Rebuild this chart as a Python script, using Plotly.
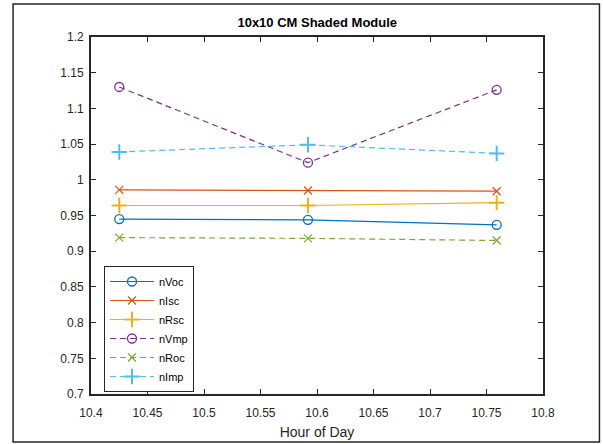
import plotly.graph_objects as go

hours = [10.425, 10.592, 10.759]
series_names = ["nVoc", "nIsc", "nRsc", "nVmp", "nRoc", "nImp"]
nVoc = [0.945, 0.944, 0.937]
nIsc = [0.986, 0.985, 0.984]
nRsc = [0.964, 0.964, 0.968]
nVmp = [1.130, 1.024, 1.126]
nRoc = [0.919, 0.918, 0.915]
nImp = [1.039, 1.049, 1.037]
x_ticks = [10.4, 10.45, 10.5, 10.55, 10.6, 10.65, 10.7, 10.75, 10.8]
y_ticks = [0.7, 0.75, 0.8, 0.85, 0.9, 0.95, 1.0, 1.05, 1.1, 1.15, 1.2]
y_ticklabels = ["0.7", "0.75", "0.8", "0.85", "0.9", "0.95", "1", "1.05", "1.1", "1.15", "1.2"]

values = [nVoc, nIsc, nRsc, nVmp, nRoc, nImp]
colors = ["#0072BD", "#D95319", "#EDB120", "#7E2F8E", "#77AC30", "#4DBEEE"]
symbols = ["circle-open", "x-thin-open", "cross-thin-open", "circle-open", "x-thin-open", "cross-thin-open"]
sizes = [9, 8, 11, 9, 8, 11]
mwidths = [1.3, 1.2, 2, 1.3, 1.2, 2]
dashes = ["solid", "solid", "solid", "6px,4px", "6px,4px", "6px,4px"]

fig = go.Figure()
for name, vals, c, s, sz, mw, d in zip(series_names, values, colors, symbols, sizes, mwidths, dashes):
    fig.add_trace(go.Scatter(
        x=hours, y=vals, name=name, mode="lines+markers",
        line=dict(color=c, width=1.2, dash=d),
        marker=dict(symbol=s, size=sz, color=c, line=dict(color=c, width=mw)),
    ))

axis_common = dict(
    showgrid=False, zeroline=False, showline=True, linecolor="#262626", linewidth=1.8,
    mirror="allticks", ticks="inside", ticklen=5, tickwidth=1, tickcolor="#262626",
    automargin=False,
    tickfont=dict(family="Arial, Liberation Sans, sans-serif", size=12, color="#262626"),
)

fig.update_layout(
    width=603, height=444,
    margin=dict(l=91, r=59.5, t=37, b=50),
    paper_bgcolor="white", plot_bgcolor="white",
    title=dict(text="<b>10x10 CM Shaded Module</b>", x=(91 + 543.5) / 2 / 603, xanchor="center",
               y=1 - 22 / 444, yanchor="middle",
               font=dict(family="Arial, Liberation Sans, sans-serif", size=13, color="black")),
    xaxis=dict(range=[10.4, 10.8], tickvals=x_ticks, ticktext=[str(v) for v in x_ticks],
               ticklabelstandoff=7,
               title=dict(text="Hour of Day", standoff=8,
                          font=dict(family="Arial, Liberation Sans, sans-serif", size=14, color="#262626")),
               **axis_common),
    yaxis=dict(range=[0.7, 1.2], tickvals=y_ticks, ticktext=y_ticklabels, ticklabelstandoff=3,
               **axis_common),
    legend=dict(x=13 / 452.5, y=(394 - 266) / 357, xanchor="left", yanchor="top",
                bordercolor="#262626", borderwidth=1, bgcolor="white",
                font=dict(family="Arial, Liberation Sans, sans-serif", size=11, color="black"),
                tracegroupgap=0, itemwidth=44),
    showlegend=True,
)

# outer figure frame
fig.add_shape(type="rect", xref="paper", yref="paper",
              x0=(13 - 91) / 452.5, x1=(600 - 91) / 452.5,
              y0=(394 - 442) / 357, y1=(394 - 4) / 357,
              line=dict(color="#262626", width=1.5), fillcolor="rgba(0,0,0,0)", layer="below")

fig.write_html("out.html")
